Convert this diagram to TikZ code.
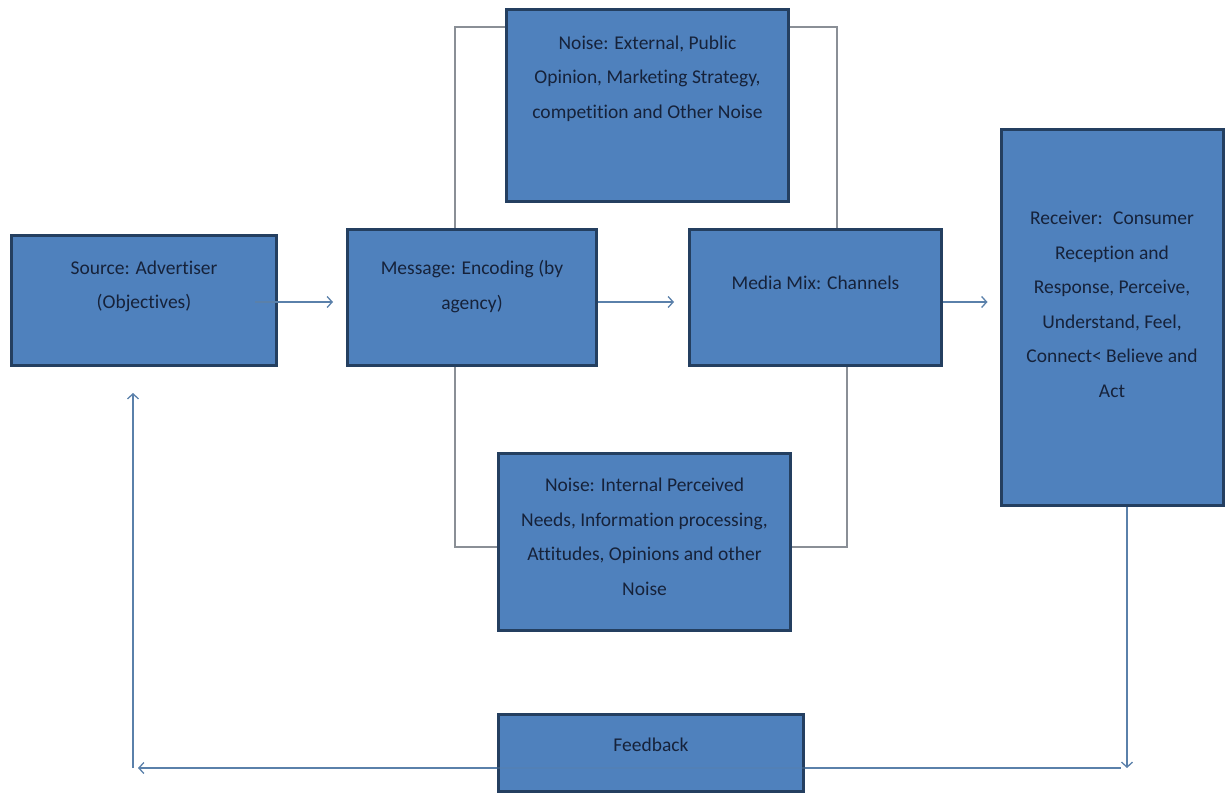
\documentclass[tikz,border=0pt]{standalone}
\usepackage{fontspec}
\setmainfont[Ligatures=NoCommon]{Carlito}
\usetikzlibrary{arrows.meta,calc}
\definecolor{boxfill}{HTML}{4F81BD}
\definecolor{boxedge}{HTML}{243F60}
\definecolor{boxtext}{HTML}{16223A}
\definecolor{flow}{HTML}{5A80AA}
\definecolor{bracket}{HTML}{8A8F96}
\tikzset{
  blockbox/.style={draw=boxedge, line width=3pt, fill=boxfill, inner sep=0pt},
  blocktext/.style={text=boxtext, align=center, font=\fontsize{19.5}{34.5}\selectfont, inner sep=0pt},
  flowline/.style={draw=flow, line width=1.3pt},
  flowarrow/.style={flowline, -{Straight Barb[length=5pt,width=11pt,line width=1.3pt]}},
  bracketline/.style={draw=bracket, line width=1.1pt},
}
\begin{document}
\begin{tikzpicture}[x=1pt,y=-1pt]
\useasboundingbox (0,0) rectangle (1225,795);

% blocks (centres, sizes)
\node[blockbox, minimum width=265pt, minimum height=130pt] (src) at (144,300.5) {};
\node[blockbox, minimum width=249pt, minimum height=136pt] (msg) at (472,297.5) {};
\node[blockbox, minimum width=252pt, minimum height=136pt] (media) at (815.5,297.5) {};
\node[blockbox, minimum width=282pt, minimum height=192pt] (ntop) at (647.5,105.5) {};
\node[blockbox, minimum width=222pt, minimum height=376pt] (recv) at (1112,317.5) {};
\node[blockbox, minimum width=292pt, minimum height=177pt] (nbot) at (644.5,542) {};
\node[blockbox, minimum width=305pt, minimum height=77pt] (fb) at (651,753) {};

% texts
\node[blocktext] (srcT) at ([yshift=14pt]src.center) {Source: Advertiser\\(Objectives)};
\node[blocktext] (msgT) at ([yshift=11pt]msg.center) {Message: Encoding (by\\agency)};
\node[blocktext] (mediaT) at ([yshift=15pt]media.center) {Media Mix: Channels};
\node[blocktext] (ntopT) at ([yshift=27pt]ntop.center) {Noise: External, Public\\Opinion, Marketing Strategy,\\competition and Other Noise};
\node[blocktext] (recvT) at ([yshift=13pt]recv.center) {Receiver:~ Consumer\\Reception and\\Response, Perceive,\\Understand, Feel,\\Connect< Believe and\\Act};
\node[blocktext] (nbotT) at ([yshift=5pt]nbot.center) {Noise: Internal Perceived\\Needs, Information processing,\\Attitudes, Opinions and other\\Noise};
\node[blocktext] (fbT) at ([yshift=8pt]fb.center) {Feedback};

% main flow along one row
\coordinate (row) at (0,302);
\draw[flowarrow] ([xshift=-23pt]src.east |- row) -- ([xshift=-13pt]msg.west |- row);
\draw[flowarrow] (msg.east |- row) -- ([xshift=-14pt]media.west |- row);
\draw[flowarrow] (media.east |- row) -- ([xshift=-12pt]recv.west |- row);

% noise brackets
\draw[bracketline] (msg.north -| 455,0) |- (ntop.west |- 0,27);
\draw[bracketline] (ntop.east |- 0,27) -| (media.north -| 837,0);
\draw[bracketline] (msg.south -| 455,0) |- (nbot.west |- 0,547);
\draw[bracketline] (nbot.east |- 0,547) -| (media.south -| 847,0);

% feedback loop
\coordinate (loopR) at (1121,768);
\coordinate (loopL) at (133,768);
\draw[flowarrow] (recv.south -| 1127,0) -- (1127,768);
\draw[flowline] (fb.east |- loopR) -- (loopR);
\draw[flowline, opacity=0.35] (fb.west |- loopR) -- (fb.east |- loopR);
\draw[flowarrow] (fb.west |- loopR) -- ([xshift=5pt]loopL);
\draw[flowarrow] (loopL) -- ([yshift=-26pt]loopL |- src.south);
\end{tikzpicture}
\end{document}
